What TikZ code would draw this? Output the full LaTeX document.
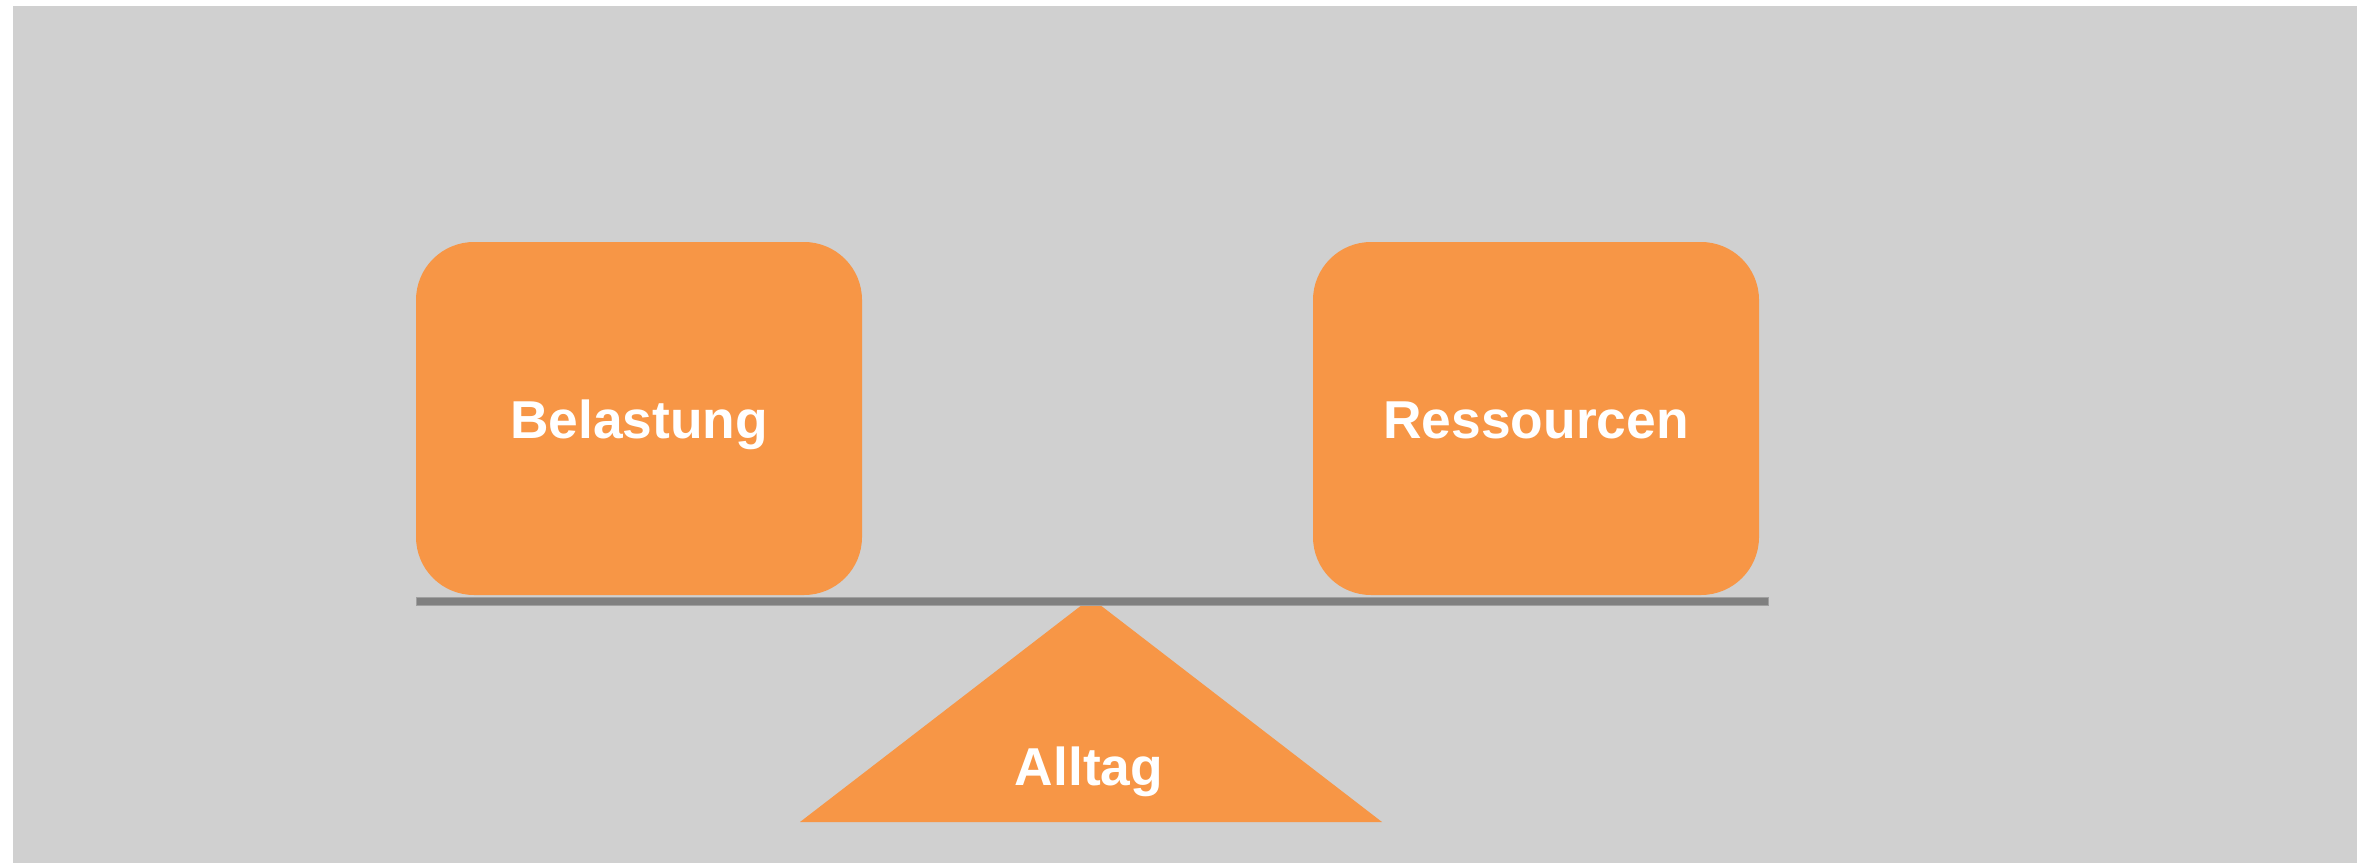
\documentclass[tikz,border=0pt]{standalone}
\usepackage{fontspec}
\setmainfont{Liberation Sans}
\definecolor{panelgrey}{HTML}{D0D0D0}
\definecolor{weightorange}{HTML}{F79646}
\definecolor{beamgrey}{HTML}{808080}
\definecolor{beamedge}{HTML}{A0A0A0}
\begin{document}
\begin{tikzpicture}[x=0.75pt,y=-0.75pt,
  weight/.style={fill=weightorange, draw=none, rounded corners=43.5pt,
    minimum width=334.5pt, minimum height=264.75pt, inner sep=0pt,
    text height=30.3pt, text depth=0pt,
    text=white, font=\fontsize{40}{48}\selectfont\bfseries},
  label/.style={text=white, font=\fontsize{40}{48}\selectfont\bfseries, inner sep=0pt}]
  % canvas and grey panel
  \useasboundingbox (0,0) rectangle (2372,863);
  \fill[white] (0,0) rectangle (2372,863);
  \fill[panelgrey] (13,6) rectangle (2357,863);
  % fulcrum
  \fill[weightorange] (1091,598) -- (1382,822) -- (800,822) -- cycle;
  \node[label, anchor=base] (alltag) at (1089,785) {Alltag};
  % beam
  \node[fill=beamgrey, draw=beamedge, line width=0.75pt, inner sep=0pt,
    minimum width=1014pt, minimum height=6pt, anchor=north west] (beam) at (416,597) {};
  % the two loads on the beam
  \node[weight] (belastung) at (639,418.5) {Belastung};
  \node[weight] (ressourcen) at (1536,418.5) {Ressourcen};
\end{tikzpicture}
\end{document}
